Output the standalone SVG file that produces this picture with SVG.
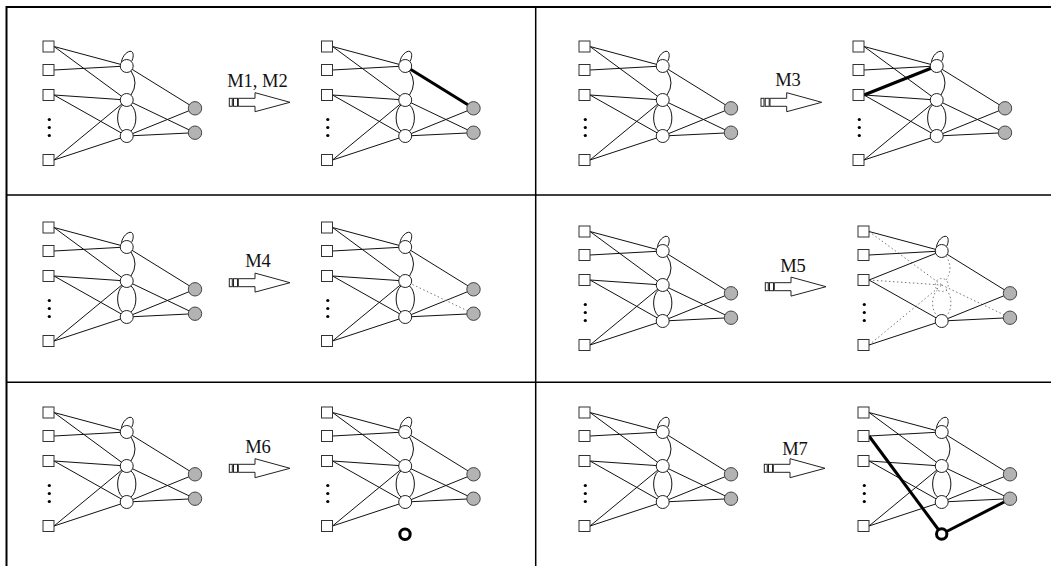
<svg xmlns="http://www.w3.org/2000/svg" xmlns:xlink="http://www.w3.org/1999/xlink" width="1051" height="566" viewBox="0 0 1051 566">
  <style>
    .frame { stroke: #000; fill: none; }
    .ln { stroke: #111; stroke-width: 1; fill: none; }
    .bold { stroke: #000; stroke-width: 3; fill: none; }
    .dot { stroke: #777; stroke-width: 1; stroke-dasharray: 1.5 2.5; fill: none; }
    .sq { fill: #fff; stroke: #333; stroke-width: 1; }
    .hn { fill: #fff; stroke: #222; stroke-width: 1; }
    .on { fill: #b3b3b3; stroke: #444; stroke-width: 1; }
    .ring { fill: #fff; stroke: #000; stroke-width: 3; }
    .dots { fill: #000; }
    .arrow { fill: #fff; stroke: #222; stroke-width: 1; }
    .lbl { font-family: "Liberation Serif", "Times New Roman", serif; font-size: 18.5px; fill: #111; text-anchor: middle; }
  </style>
  <defs>
    <!-- feed-forward links of the base network (hidden2 -> output2 kept separate) -->
    <g id="links">
      <line x1="54" y1="46.5" x2="126.7" y2="66"/>
      <line x1="54" y1="46.5" x2="126.7" y2="100"/>
      <line x1="54" y1="70" x2="126.7" y2="66"/>
      <line x1="54" y1="95" x2="126.7" y2="100"/>
      <line x1="54" y1="95" x2="126.7" y2="136"/>
      <line x1="54" y1="160" x2="126.7" y2="100"/>
      <line x1="54" y1="160" x2="126.7" y2="136"/>
      <line x1="126.7" y1="66" x2="195" y2="108.3"/>
      <line x1="126.7" y1="136" x2="195" y2="108.3"/>
      <line x1="126.7" y1="136" x2="195" y2="132.7"/>
    </g>
    <line id="h2o2" x1="126.7" y1="100" x2="195" y2="132.7"/>
    <!-- recurrent connections -->
    <path id="loop" fill="none" d="M121.5,62 C122,56 128,50 131.5,51.5 C134,53 133.5,58 131.5,61.5"/>
    <g id="arcs" fill="none">
      <path d="M131,71 Q139,83 131,95"/>
      <path d="M122.5,105 C116,110 116,126 122.5,131"/>
      <path d="M131,105 C137.5,110 137.5,126 131,131"/>
    </g>
    <!-- units -->
    <g id="inputs">
      <rect class="sq" x="43" y="41" width="11" height="11"/>
      <rect class="sq" x="43" y="64.5" width="11" height="11"/>
      <rect class="sq" x="43" y="89.5" width="11" height="11"/>
      <rect class="sq" x="43" y="154.5" width="11" height="11"/>
      <circle class="dots" cx="49.3" cy="119.5" r="1.6"/>
      <circle class="dots" cx="49.3" cy="127.5" r="1.6"/>
      <circle class="dots" cx="49.3" cy="135.5" r="1.6"/>
    </g>
    <circle id="h1" class="hn" cx="126.7" cy="66" r="6.5"/>
    <circle id="h2" class="hn" cx="126.7" cy="100" r="6.5"/>
    <circle id="h3" class="hn" cx="126.7" cy="136" r="6.5"/>
    <g id="outputs">
      <circle class="on" cx="195" cy="108.3" r="6.7"/>
      <circle class="on" cx="195" cy="132.7" r="6.7"/>
    </g>
    <!-- complete base network -->
    <g id="net">
      <use href="#links" class="ln"/>
      <use href="#h2o2" class="ln"/>
      <use href="#loop" class="ln"/>
      <use href="#arcs" class="ln"/>
      <use href="#inputs"/>
      <use href="#h1"/><use href="#h2"/><use href="#h3"/>
      <use href="#outputs"/>
    </g>
    <!-- transformation arrow -->
    <g id="arr">
      <rect class="arrow" x="229.3" y="98.3" width="3" height="8"/>
      <rect class="arrow" x="233.5" y="98.3" width="4" height="8"/>
      <path class="arrow" d="M238.3,98.3 L255,98.3 L255,92.7 L290,102.3 L255,111.7 L255,106.3 L238.3,106.3 Z"/>
    </g>
  </defs>

  <!-- panel frame -->
  <g id="frame" class="frame">
    <line x1="6" y1="7" x2="1051" y2="7" stroke-width="2"/>
    <line x1="6.5" y1="6" x2="6.5" y2="566" stroke-width="2"/>
    <line x1="535.7" y1="7" x2="535.7" y2="566" stroke-width="1.5"/>
    <line x1="6" y1="195" x2="1051" y2="195" stroke-width="1.5"/>
    <line x1="6" y1="382.3" x2="1051" y2="382.3" stroke-width="1.5"/>
  </g>

  <!-- M1, M2 -->
  <g id="panel-m1m2">
    <use href="#net"/>
    <use href="#arr"/>
    <text class="lbl" x="257.5" y="87">M1, M2</text>
    <g transform="translate(278.5,0)">
      <use href="#links" class="ln"/>
      <use href="#h2o2" class="ln"/>
      <use href="#loop" class="ln"/>
      <use href="#arcs" class="ln"/>
      <line class="bold" x1="126.7" y1="66" x2="195" y2="108.3"/>
      <use href="#inputs"/>
      <use href="#h1"/><use href="#h2"/><use href="#h3"/>
      <use href="#outputs"/>
    </g>
  </g>

  <!-- M3 -->
  <g id="panel-m3">
    <use href="#net" transform="translate(536,0)"/>
    <use href="#arr" transform="translate(531.7,0)"/>
    <text class="lbl" x="788" y="86">M3</text>
    <g transform="translate(810,0)">
      <use href="#links" class="ln"/>
      <use href="#h2o2" class="ln"/>
      <use href="#loop" class="ln"/>
      <use href="#arcs" class="ln"/>
      <line class="bold" x1="54" y1="95" x2="126.7" y2="66"/>
      <use href="#inputs"/>
      <use href="#h1"/><use href="#h2"/><use href="#h3"/>
      <use href="#outputs"/>
    </g>
  </g>

  <!-- M4 -->
  <g id="panel-m4">
    <use href="#net" transform="translate(0,181)"/>
    <use href="#arr" transform="translate(0,180.4)"/>
    <text class="lbl" x="258" y="266.7">M4</text>
    <g transform="translate(278.5,181)">
      <use href="#links" class="ln"/>
      <use href="#h2o2" class="dot"/>
      <use href="#loop" class="ln"/>
      <use href="#arcs" class="ln"/>
      <use href="#inputs"/>
      <use href="#h1"/><use href="#h2"/><use href="#h3"/>
      <use href="#outputs"/>
    </g>
  </g>

  <!-- M5 -->
  <g id="panel-m5">
    <use href="#net" transform="translate(536,185)"/>
    <use href="#arr" transform="translate(536,184.4)"/>
    <text class="lbl" x="793" y="272.3">M5</text>
    <g transform="translate(815,185)">
      <g class="dot">
        <line x1="54" y1="46.5" x2="126.7" y2="100"/>
        <line x1="54" y1="95" x2="126.7" y2="100"/>
        <line x1="54" y1="160" x2="126.7" y2="100"/>
        <line x1="126.7" y1="100" x2="195" y2="132.7"/>
        <circle cx="126.7" cy="100" r="6.5"/>
      </g>
      <use href="#arcs" class="dot"/>
      <g class="ln">
        <line x1="54" y1="46.5" x2="126.7" y2="66"/>
        <line x1="54" y1="70" x2="126.7" y2="66"/>
        <line x1="54" y1="95" x2="126.7" y2="66"/>
        <line x1="54" y1="95" x2="126.7" y2="136"/>
        <line x1="54" y1="160" x2="126.7" y2="136"/>
        <line x1="126.7" y1="66" x2="195" y2="108.3"/>
        <line x1="126.7" y1="136" x2="195" y2="108.3"/>
        <line x1="126.7" y1="136" x2="195" y2="132.7"/>
      </g>
      <use href="#loop" class="ln"/>
      <use href="#inputs"/>
      <use href="#h1"/><use href="#h3"/>
      <use href="#outputs"/>
    </g>
  </g>

  <!-- M6 -->
  <g id="panel-m6">
    <use href="#net" transform="translate(0,366)"/>
    <use href="#arr" transform="translate(0,366)"/>
    <text class="lbl" x="258" y="453.3">M6</text>
    <g transform="translate(278.5,366)">
      <use href="#net"/>
      <circle class="ring" cx="126.5" cy="168.3" r="5.2"/>
    </g>
  </g>

  <!-- M7 -->
  <g id="panel-m7">
    <use href="#net" transform="translate(536,366)"/>
    <use href="#arr" transform="translate(535,366)"/>
    <text class="lbl" x="795" y="455">M7</text>
    <g transform="translate(815,366)">
      <use href="#links" class="ln"/>
      <use href="#h2o2" class="ln"/>
      <use href="#loop" class="ln"/>
      <use href="#arcs" class="ln"/>
      <line class="bold" x1="54" y1="70" x2="126.7" y2="168"/>
      <line class="bold" x1="126.7" y1="168" x2="195" y2="133"/>
      <use href="#inputs"/>
      <use href="#h1"/><use href="#h2"/><use href="#h3"/>
      <use href="#outputs"/>
      <circle class="ring" cx="126.7" cy="168" r="5.2"/>
    </g>
  </g>
</svg>
